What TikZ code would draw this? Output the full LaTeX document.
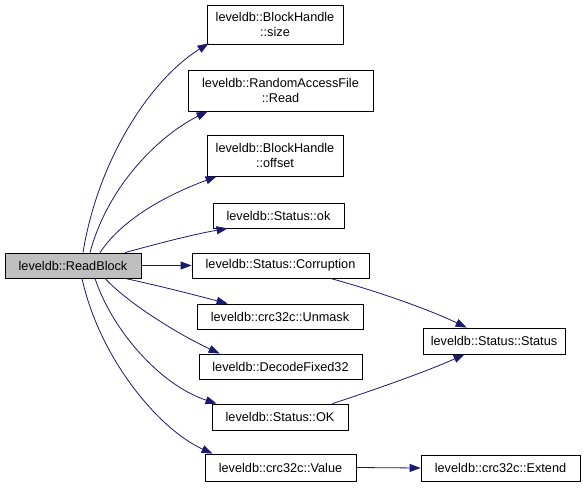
\documentclass[tikz,border=0pt]{standalone}
\usepackage{fontspec}
\setmainfont{Liberation Sans}
\usetikzlibrary{arrows.meta}
\definecolor{edgeblue}{HTML}{191970}
\definecolor{rootgray}{HTML}{BFBFBF}
\begin{document}
\begin{tikzpicture}[x=1pt,y=-1pt,
  box/.style={draw=black,line width=0.8pt,fill=white,inner sep=0pt,align=center,
    font=\fontsize{12.7}{15}\selectfont},
  conn/.style={draw=edgeblue,line width=0.8pt,-{Triangle[length=11pt,width=8pt]},fill=none}]
\useasboundingbox (0,0) rectangle (585,487);
\node[box,fill=rootgray,minimum width=136pt,minimum height=25pt] (rb) at (73,265.5) {leveldb::ReadBlock};
\node[box,minimum width=136pt,minimum height=39pt] (size) at (275,24.5) {leveldb::BlockHandle\\::size};
\node[box,minimum width=185pt,minimum height=41pt] (read) at (280.5,90.5) {leveldb::RandomAccessFile\\::Read};
\node[box,minimum width=136pt,minimum height=41pt] (offset) at (275,155.5) {leveldb::BlockHandle\\::offset};
\node[box,minimum width=131pt,minimum height=25pt] (ok) at (278.5,215.5) {leveldb::Status::ok};
\node[box,minimum width=177pt,minimum height=25pt] (corr) at (280.5,265.5) {leveldb::Status::Corruption};
\node[box,minimum width=166pt,minimum height=25pt] (unmask) at (280,316.5) {leveldb::crc32c::Unmask};
\node[box,minimum width=163pt,minimum height=25pt] (decode) at (280.5,366.5) {leveldb::DecodeFixed32};
\node[box,minimum width=136pt,minimum height=26pt] (okc) at (280,417) {leveldb::Status::OK};
\node[box,minimum width=151pt,minimum height=27pt] (value) at (280.5,467.5) {leveldb::crc32c::Value};
\node[box,minimum width=142pt,minimum height=26pt] (status) at (494,341) {leveldb::Status::Status};
\node[box,minimum width=159pt,minimum height=26pt] (extend) at (500.5,468) {leveldb::crc32c::Extend};

\draw[conn] ([xshift=10pt]rb.north) .. controls (98,160) and (150,80) .. ([xshift=2pt,yshift=1pt]size.south west);
\draw[conn] ([xshift=17pt]rb.north) .. controls (108,185) and (160,135) .. ([xshift=20pt]read.south west);
\draw[conn] ([xshift=27pt]rb.north) .. controls (125,215) and (175,192) .. ([xshift=10pt]offset.south west);
\draw[conn] ([xshift=52pt]rb.north) .. controls (160,243) and (195,234) .. ([xshift=15pt]ok.south west);
\draw[conn] (rb.east) -- (corr.west);
\draw[conn] ([xshift=52pt]rb.south) .. controls (160,286) and (195,295) .. ([xshift=31pt]unmask.north west);
\draw[conn] ([xshift=32pt]rb.south) .. controls (130,305) and (180,335) .. ([xshift=21pt]decode.north west);
\draw[conn] ([xshift=22pt]rb.south) .. controls (112,330) and (160,385) .. ([xshift=5pt]okc.north west);
\draw[conn] ([xshift=9pt]rb.south) .. controls (100,360) and (160,430) .. ([xshift=8pt]value.north west);
\draw[conn] ([xshift=-39pt]corr.south east) .. controls (380,292) and (430,310) .. ([xshift=44pt]status.north west);
\draw[conn] ([xshift=-16pt]okc.north east) .. controls (380,388) and (430,370) .. ([xshift=42pt]status.south west);
\draw[conn] (value.east) -- (extend.west);
\end{tikzpicture}
\end{document}
